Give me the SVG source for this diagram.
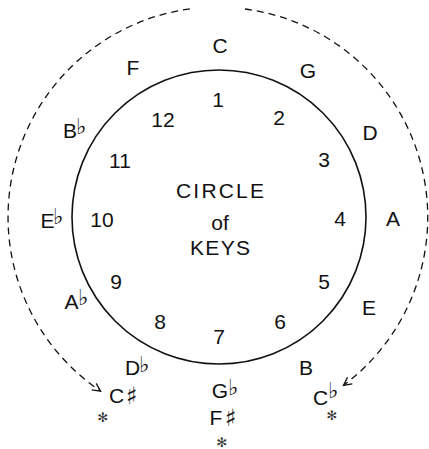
<svg xmlns="http://www.w3.org/2000/svg" width="429" height="449" viewBox="0 0 429 449">
<defs>
<style>
.k{font-family:"Liberation Sans",Arial,sans-serif;font-size:21px;fill:#111;text-anchor:middle}
.n{font-family:"Liberation Sans",Arial,sans-serif;font-size:21px;fill:#111;text-anchor:middle}
.t{font-family:"Liberation Sans",Arial,sans-serif;font-size:21px;fill:#111;text-anchor:middle}
.acc{font-family:"DejaVu Sans",sans-serif;font-size:22px;fill:#111}
.sh{font-family:"DejaVu Sans",sans-serif;font-size:24px;fill:#111}
.ast{font-family:"DejaVu Sans",sans-serif;font-size:13px;fill:#333;text-anchor:middle}
.dash{fill:none;stroke:#111;stroke-width:1.3;stroke-dasharray:7 5}
</style>
<marker id="arr" markerWidth="12" markerHeight="12" refX="9" refY="5" orient="auto" markerUnits="userSpaceOnUse">
<path d="M1,1 L9,5 L1,9" fill="none" stroke="#111" stroke-width="1.3" stroke-dasharray="none"/>
</marker>
</defs>
<rect width="429" height="449" fill="#fff"/>
<g id="circle">
<circle cx="219" cy="217" r="147" fill="none" stroke="#111" stroke-width="1.6"/>
</g>
<g id="connectors">
<path class="dash" d="M189.9,8.9 A210,210 0 0 0 100.6,391.1" marker-end="url(#arr)"/>
<path class="dash" d="M245,9 A210,210 0 0 1 343.5,385.4" marker-end="url(#arr)"/>
</g>
<g id="title">
<text class="t" x="220" y="198" textLength="88" lengthAdjust="spacing">CIRCLE</text>
<text class="t" x="220" y="230">of</text>
<text class="t" x="220" y="255" textLength="60" lengthAdjust="spacing">KEYS</text>
</g>
<g id="numbers">
<text class="n" x="218" y="107">1</text>
<text class="n" x="279" y="125">2</text>
<text class="n" x="324" y="167">3</text>
<text class="n" x="340" y="226">4</text>
<text class="n" x="324" y="289">5</text>
<text class="n" x="280" y="329">6</text>
<text class="n" x="219" y="344">7</text>
<text class="n" x="160" y="329">8</text>
<text class="n" x="116" y="289">9</text>
<text class="n" x="102" y="227">10</text>
<text class="n" x="120" y="168">11</text>
<text class="n" x="163" y="127">12</text>
</g>
<g id="key-C"><text class="k" x="220" y="53">C</text></g>
<g id="key-G"><text class="k" x="308" y="78">G</text></g>
<g id="key-D"><text class="k" x="370" y="140">D</text></g>
<g id="key-A"><text class="k" x="393" y="226">A</text></g>
<g id="key-E"><text class="k" x="369" y="315">E</text></g>
<g id="key-B"><text class="k" x="306" y="375">B</text></g>
<g id="key-Cb"><text class="k" x="320.5" y="405">C</text><text class="acc" x="328" y="398">♭</text><text class="ast" x="332" y="420">✻</text></g>
<g id="key-Gb"><text class="k" x="220" y="398">G</text><text class="acc" x="228" y="395">♭</text></g>
<g id="key-Fs"><text class="k" x="216" y="425">F</text><text class="sh" x="225" y="426">♯</text><text class="ast" x="222" y="447">✻</text></g>
<g id="key-Db"><text class="k" x="132.5" y="375">D</text><text class="acc" x="139" y="372">♭</text></g>
<g id="key-Cs"><text class="k" x="116.5" y="403">C</text><text class="sh" x="126" y="404">♯</text><text class="ast" x="103" y="422">✻</text></g>
<g id="key-Ab"><text class="k" x="71.5" y="309">A</text><text class="acc" x="78" y="305">♭</text></g>
<g id="key-Eb"><text class="k" x="47.5" y="228">E</text><text class="acc" x="53" y="224">♭</text></g>
<g id="key-Bb"><text class="k" x="70" y="138">B</text><text class="acc" x="76" y="134">♭</text></g>
<g id="key-F"><text class="k" x="133" y="75">F</text></g>
</svg>
